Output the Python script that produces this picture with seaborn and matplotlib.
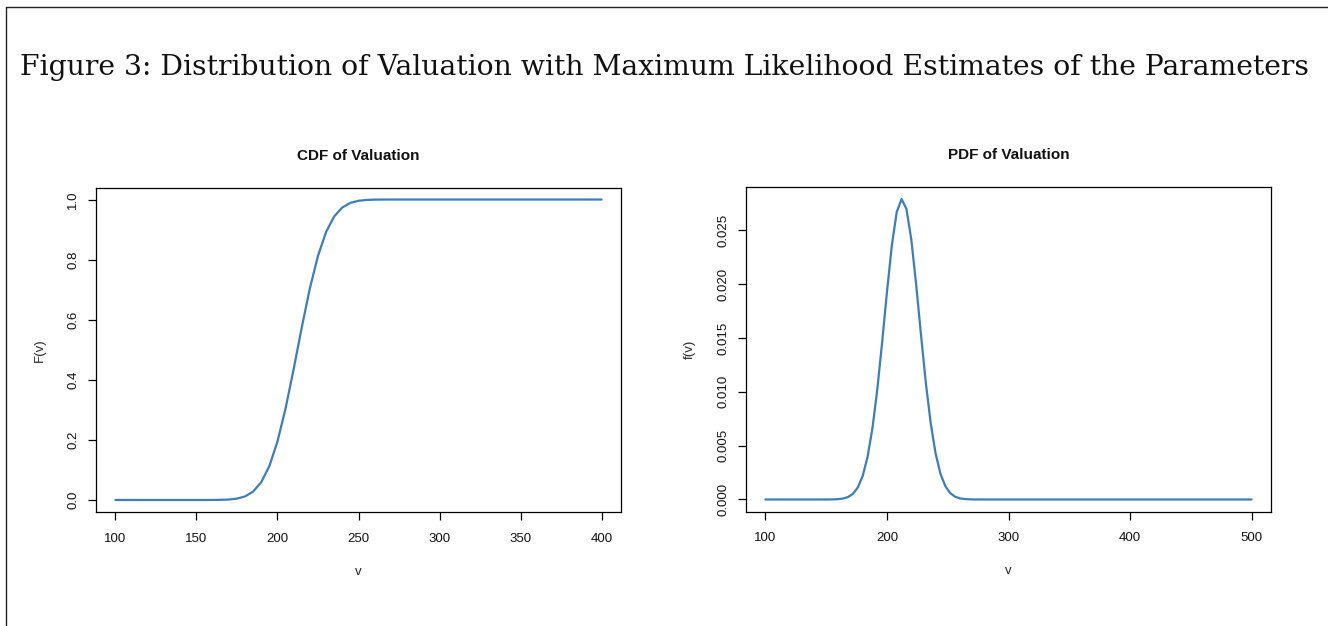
import matplotlib
matplotlib.use("Agg")
import matplotlib.pyplot as plt
from matplotlib.lines import Line2D
import seaborn as sns
import pandas as pd

# ---- data ----
cdf_v = [100, 155, 160, 165, 170, 175, 180, 185, 190, 195, 200, 205, 210, 215,
         220, 225, 230, 235, 240, 245, 250, 255, 260, 265, 270, 400]
cdf_F = [0.0, 0.0, 0.0001, 0.0005, 0.0015, 0.0046, 0.0119, 0.0281, 0.0595, 0.1131,
         0.1949, 0.3050, 0.4361, 0.5750, 0.7047, 0.8127, 0.8921, 0.9438, 0.9736,
         0.9889, 0.9958, 0.9986, 0.9996, 0.9999, 1.0, 1.0]

pdf_v = [100, 152, 156, 160, 164, 168, 172, 176, 180, 184, 188, 192, 196, 200, 204,
         208, 212, 216, 220, 224, 228, 232, 236, 240, 244, 248, 252, 256, 260,
         264, 268, 272, 500]
pdf_f = [0.0, 0.0, 0.000010, 0.000035, 0.000093, 0.000230, 0.000526, 0.001114,
         0.002179, 0.003937, 0.00659, 0.01018, 0.01457, 0.01927, 0.02358, 0.02667,
         0.02789, 0.02698, 0.02414, 0.01997, 0.01527, 0.01080, 0.00707, 0.00427,
         0.00239, 0.00124, 0.000591, 0.000262, 0.000107, 0.000041, 0.000014, 0.0, 0.0]

cdf_xticks = [100, 150, 200, 250, 300, 350, 400]
cdf_yticks = [0.0, 0.2, 0.4, 0.6, 0.8, 1.0]
pdf_xticks = [100, 200, 300, 400, 500]
pdf_yticks = [0.000, 0.005, 0.010, 0.015, 0.020, 0.025]

fig_title = "Figure 3: Distribution of Valuation with Maximum Likelihood Estimates of the Parameters"

# ---- styling ----
sns.set_theme(style="white")
plt.rcParams['font.family'] = ['Liberation Sans', 'DejaVu Sans']

W, H = 1328, 626
fig = plt.figure(figsize=(W / 100, H / 100), dpi=100)
fig.patch.set_facecolor("white")

line_color = "#3F7DB8"

def px_axes(l, r, t, b):
    return [l / W, 1 - b / H, (r - l) / W, (b - t) / H]

ax1 = fig.add_axes(px_axes(96, 621, 187.5, 512))
ax2 = fig.add_axes(px_axes(746, 1271, 187, 511.5))

df1 = pd.DataFrame({"v": cdf_v, "F": cdf_F})
df2 = pd.DataFrame({"v": pdf_v, "f": pdf_f})
sns.lineplot(data=df1, x="v", y="F", ax=ax1, color=line_color, linewidth=1.6)
sns.lineplot(data=df2, x="v", y="f", ax=ax2, color=line_color, linewidth=1.6)

def r_style(ax, xt, yt, xlab, ylab, title, ylabel_fmt):
    xmin, xmax = min(xt), max(xt)
    dx = (xmax - xmin) * 0.04
    ax.set_xlim(xmin - dx, xmax + dx)
    ymax = max(ax.lines[0].get_ydata())
    ymin = 0.0
    dy = (ymax - ymin) * 0.04
    ax.set_ylim(ymin - dy, ymax + dy)
    ax.set_xticks(xt)
    ax.set_yticks(yt)
    ax.set_xticklabels([str(v) for v in xt])
    ax.set_yticklabels([ylabel_fmt.format(v) for v in yt], rotation=90, va="center")
    for s in ax.spines.values():
        s.set_visible(True)
        s.set_color("black")
        s.set_linewidth(0.9)
    ax.tick_params(axis="both", direction="out", length=6, width=0.9, color="black",
                   labelsize=9.5, labelcolor="#111111")
    ax.tick_params(axis="x", pad=9, bottom=True)
    ax.tick_params(axis="y", pad=6, left=True)
    ax.set_xlabel(xlab, fontsize=9.5)
    ax.set_ylabel(ylab, fontsize=9.5)
    ax.xaxis.set_label_coords(0.5, -0.165)
    ax.set_title(title, fontsize=11, fontweight="bold", pad=20, color="#111111")
    ax.grid(False)

r_style(ax1, cdf_xticks, cdf_yticks, "v", "F(v)", "CDF of Valuation", "{:.1f}")
r_style(ax2, pdf_xticks, pdf_yticks, "v", "f(v)", "PDF of Valuation", "{:.3f}")
ax1.yaxis.set_label_coords(-0.095, 0.5)
ax2.yaxis.set_label_coords(-0.095, 0.5)

fig.text(20 / W, 1 - 75 / H, fig_title, family=["DejaVu Serif"], fontsize=20.3,
         ha="left", va="baseline", color="#111111")

# border lines (left and top)
fig.add_artist(Line2D([5.5 / W, 5.5 / W], [0, 1 - 7.3 / H], transform=fig.transFigure,
                      color="#222222", linewidth=1.0))
fig.add_artist(Line2D([5.5 / W, 1], [1 - 7.3 / H, 1 - 7.3 / H], transform=fig.transFigure,
                      color="#222222", linewidth=1.0))

fig.savefig("out.png", dpi=100)
